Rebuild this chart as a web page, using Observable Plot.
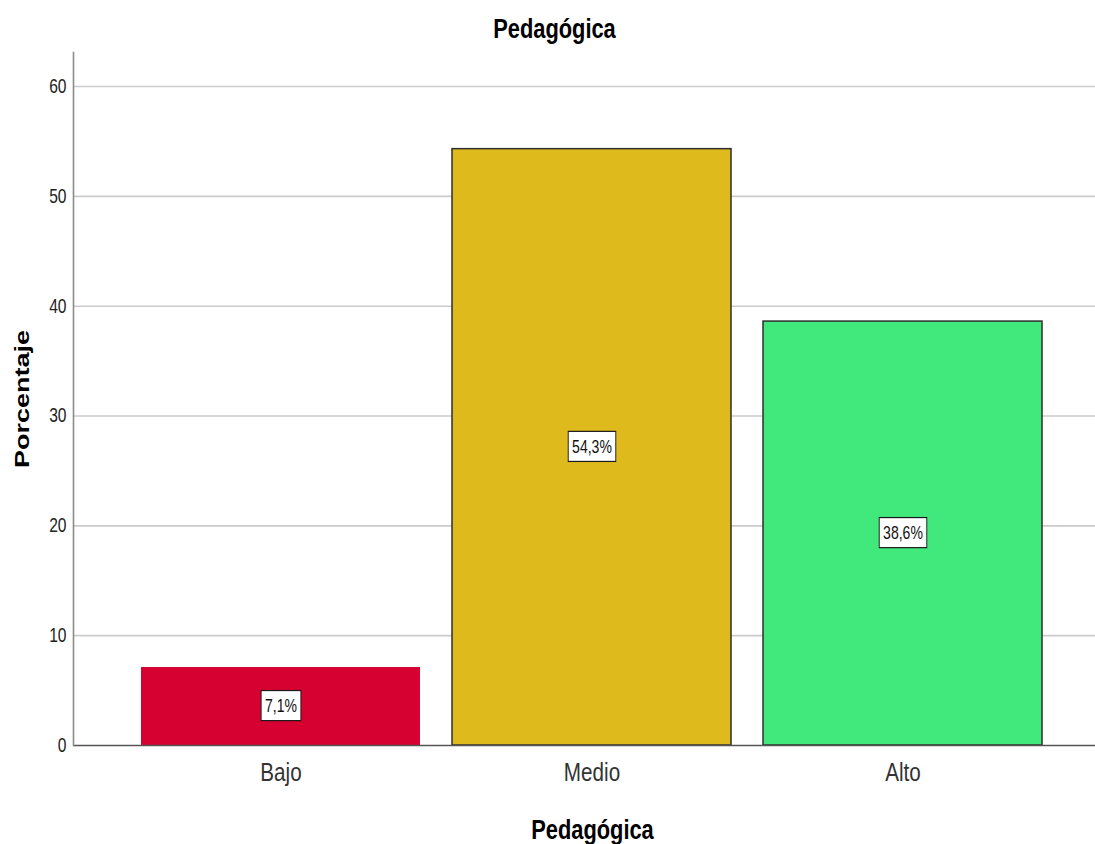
<!DOCTYPE html>
<html>
<head>
<meta charset="utf-8">
<script src="https://cdn.jsdelivr.net/npm/d3@7"></script>
<script src="https://cdn.jsdelivr.net/npm/@observablehq/plot@0.6"></script>
<style>
  html, body { margin: 0; padding: 0; background: #fff; overflow: hidden; }
</style>
</head>
<body>
<div id="chart"></div>
<script>
// Level categories and their share of respondents (%)
const categories = ["Bajo", "Medio", "Alto"];
const percentages = [7.1, 54.3, 38.6];
const barColors = ["#d60031", "#dfba1d", "#41e97d"];
const yTicks = [0, 10, 20, 30, 40, 50, 60];
const gridTicks = [10, 20, 30, 40, 50, 60];
const chartTitle = "Pedagógica";
const xTitle = "Pedagógica";
const yTitle = "Porcentaje";

const rows = categories.map((c, i) => ({category: c, value: percentages[i]}));
const fmt = v => v.toFixed(1).replace(".", ",") + "%";
const valueLabels = new Set(percentages.map(fmt));

const font = "'Liberation Sans', Arial, sans-serif";
const squeeze = 0.78; // horizontal condensing of the lettering

const chart = Plot.plot({
  width: 1095,
  height: 844,
  marginTop: 52,
  marginBottom: 99,
  marginLeft: 73,
  marginRight: 0,
  style: {fontFamily: font, background: "#fff"},
  x: {domain: categories, range: [73, 1110], paddingInner: 0.103, paddingOuter: 0.2186},
  y: {domain: [0, 63.1]},
  color: {domain: categories, range: barColors},
  marks: [
    Plot.ruleY(gridTicks, {stroke: "#cbcbcb", strokeWidth: 1.6}),
    Plot.barY(rows, {x: "category", y: "value", fill: "category"}),
    Plot.barY(rows.filter(d => d.category !== "Bajo"), {
      x: "category", y: "value", fill: "none", stroke: "#2e2e2e", strokeWidth: 1.5
    }),
    Plot.ruleY([0], {stroke: "#555", strokeWidth: 1.6}),
    Plot.frame({anchor: "left", stroke: "#8c8c8c", strokeWidth: 1.6}),
    Plot.axisY({ticks: yTicks, tickSize: 0, tickPadding: 7, fontSize: 20, fill: "#222", label: null}),
    Plot.axisX({tickSize: 0, tickPadding: 17, fontSize: 26.5, fill: "#333", label: null}),
    Plot.text(rows, {
      x: "category", y: d => d.value / 2, text: d => fmt(d.value),
      fontSize: 18, fill: "#111", lineAnchor: "middle"
    }),
    Plot.text([chartTitle], {
      text: d => d, frameAnchor: "top", dx: -30, dy: -15, lineAnchor: "bottom",
      fontSize: 28, fontWeight: "bold", fill: "#000"
    }),
    Plot.text([xTitle], {
      text: d => d, frameAnchor: "bottom", dx: 8, dy: 93, lineAnchor: "bottom",
      fontSize: 28, fontWeight: "bold", fill: "#000"
    }),
    Plot.text([yTitle], {
      text: d => d, frameAnchor: "left", rotate: -90, dx: -45, lineAnchor: "bottom",
      textAnchor: "middle", fontSize: 27, fontWeight: "bold", fill: "#000"
    })
  ]
});

document.getElementById("chart").append(chart);

const ns = "http://www.w3.org/2000/svg";

// Append a scale to a text element, keeping its anchor point fixed
function condense(t, sx, sy) {
  let tr = t.getAttribute("transform");
  if (!tr) {
    const x = +t.getAttribute("x") || 0, y = +t.getAttribute("y") || 0;
    t.removeAttribute("x");
    t.removeAttribute("y");
    tr = `translate(${x},${y})`;
  }
  t.setAttribute("transform", `${tr} scale(${sx},${sy})`);
}

chart.querySelectorAll("text").forEach(t => {
  const s = t.textContent;
  if (s === yTitle) {
    condense(t, 1, 0.75);
    return;
  }
  condense(t, squeeze, 1);
  if (valueLabels.has(s)) {
    // White framed box behind each value label
    const b = t.getBBox();
    const r = document.createElementNS(ns, "rect");
    r.setAttribute("x", b.x - 5);
    r.setAttribute("y", b.y - 5);
    r.setAttribute("width", b.width + 10);
    r.setAttribute("height", b.height + 10);
    r.setAttribute("fill", "#fff");
    r.setAttribute("stroke", "#1a1a1a");
    r.setAttribute("stroke-width", 1.2);
    r.setAttribute("transform", t.getAttribute("transform"));
    t.parentNode.insertBefore(r, t);
  }
});
</script>
</body>
</html>
